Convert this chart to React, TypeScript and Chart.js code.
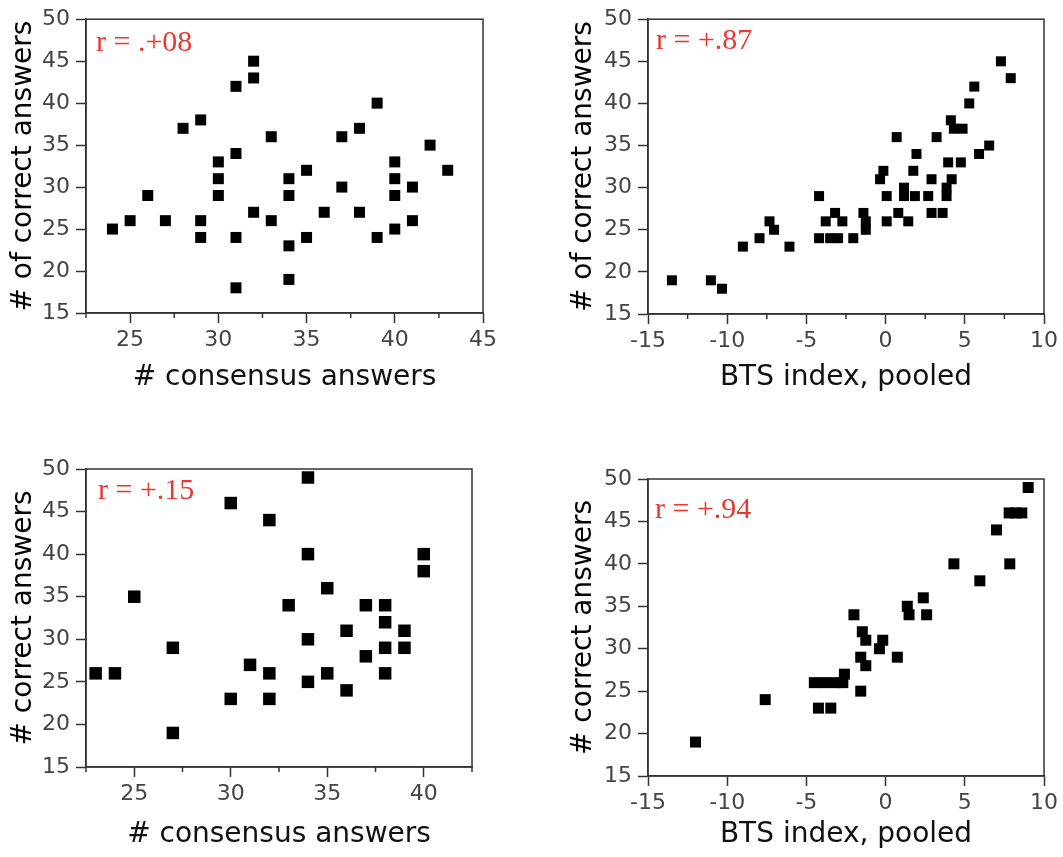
import React, { useEffect, useRef } from "react";
import { Chart, registerables } from "chart.js";
Chart.register(...registerables);

// ---- Data ----
// Panel A: # consensus answers vs # of correct answers
const consensusA = [24, 25, 26, 27, 28, 29, 29, 29, 30, 30, 30, 31, 31, 31, 31, 32, 32, 32, 33, 33, 34, 34, 34, 34, 35, 35, 36, 37, 37, 38, 38, 39, 39, 40, 40, 40, 40, 41, 41, 42, 43];
const correctA = [25, 26, 29, 26, 37, 38, 26, 24, 33, 31, 29, 42, 34, 24, 18, 45, 43, 27, 36, 26, 31, 29, 23, 19, 32, 24, 27, 36, 30, 37, 27, 40, 24, 33, 31, 29, 25, 30, 26, 35, 32];

// Panel B: BTS index, pooled vs # of correct answers
const btsB = [-13.49, -11.03, -10.33, -9.01, -7.96, -7.33, -7.04, -6.07, -4.2, -4.2, -3.78, -3.5, -3.0, -3.19, -2.73, -2.04, -1.4, -1.25, -1.25, -0.35, -0.14, 0.07, 0.07, 0.7, 0.8, 1.16, 1.16, 1.43, 1.75, 1.85, 1.95, 2.69, 2.9, 2.9, 3.22, 3.6, 3.85, 3.85, 3.95, 4.17, 4.12, 4.31, 4.86, 4.75, 5.28, 5.6, 5.9, 6.54, 7.28, 7.9];
const correctB = [19, 19, 18, 23, 24, 26, 25, 23, 29, 24, 26, 24, 24, 27, 26, 24, 27, 26, 25, 31, 32, 29, 26, 36, 27, 30, 29, 26, 32, 29, 34, 29, 31, 27, 36, 27, 30, 29, 33, 31, 38, 37, 37, 33, 40, 42, 34, 35, 45, 43];

// Panel C: # consensus answers vs # correct answers
const consensusC = [23, 24, 25, 27, 27, 30, 30, 31, 32, 32, 32, 33, 34, 34, 34, 34, 35, 35, 36, 36, 37, 37, 38, 38, 38, 38, 39, 39, 40, 40];
const correctC = [26, 26, 35, 29, 19, 46, 23, 27, 44, 26, 23, 34, 49, 40, 30, 25, 36, 26, 31, 24, 34, 28, 34, 32, 29, 26, 31, 29, 40, 38];

// Panel D: BTS index, pooled vs # correct answers
const btsD = [-12, -7.6, -4.24, -3.46, -4.5, -3.85, -3.2, -2.7, -2.6, -2.0, -1.47, -1.25, -1.57, -1.25, -1.57, -0.18, -0.39, 0.74, 1.37, 1.48, 2.38, 2.59, 4.31, 5.95, 7.0, 7.84, 7.8, 8.2, 8.6, 9.0];
const correctD = [19, 24, 23, 23, 26, 26, 26, 26, 27, 34, 32, 31, 29, 28, 25, 31, 30, 29, 35, 34, 36, 34, 40, 38, 44, 40, 46, 46, 46, 49];

// Tick values
const yTickValues = [15, 20, 25, 30, 35, 40, 45, 50];
const consensusMajorA = [25, 30, 35, 40, 45];
const consensusMajorC = [25, 30, 35, 40];
const consensusMinor = [22.5, 27.5, 32.5, 37.5, 42.5];
const btsMajor = [-15, -10, -5, 0, 5, 10];
const btsMinorB = [-12.5, -7.5, -2.5, 2.5, 7.5];
const noMinor: number[] = [];

// Labels
const xTitleConsensus = "# consensus answers";
const xTitleBts = "BTS index, pooled";
const yTitleOf = "# of correct answers";
const yTitlePlain = "# correct answers";
const rLabels = ["r = .+08", "r = +.87", "r = +.15", "r = +.94"];

// ---- Layout (positions / styles) ----
type Spec = {
  left: number; top: number; width: number; height: number;
  plotLeft: number; plotTop: number; plotRight: number; plotBottom: number;
  xs: number[]; ys: number[];
  xMin: number; xMax: number; xMajor: number[]; xMinor: number[];
  xTitle: string; yTitle: string; rLabel: string;
  rDx: number; rDy: number; side: number;
};

const specs: Spec[] = [
  { left: 0, top: 0, width: 530, height: 400, plotLeft: 86, plotTop: 15, plotRight: 483, plotBottom: 313,
    xs: consensusA, ys: correctA, xMin: 22.5, xMax: 45, xMajor: consensusMajorA, xMinor: consensusMinor,
    xTitle: xTitleConsensus, yTitle: yTitleOf, rLabel: rLabels[0], rDx: 10, rDy: 24, side: 11 },
  { left: 560, top: 0, width: 503, height: 400, plotLeft: 648, plotTop: 16, plotRight: 1044, plotBottom: 314,
    xs: btsB, ys: correctB, xMin: -15, xMax: 10, xMajor: btsMajor, xMinor: btsMinorB,
    xTitle: xTitleBts, yTitle: yTitleOf, rLabel: rLabels[1], rDx: 8, rDy: 22, side: 10 },
  { left: 0, top: 430, width: 530, height: 427, plotLeft: 86, plotTop: 469, plotRight: 472, plotBottom: 767,
    xs: consensusC, ys: correctC, xMin: 22.5, xMax: 42.5, xMajor: consensusMajorC, xMinor: consensusMinor,
    xTitle: xTitleConsensus, yTitle: yTitlePlain, rLabel: rLabels[2], rDx: 12, rDy: 22, side: 12.5 },
  { left: 560, top: 430, width: 503, height: 427, plotLeft: 648, plotTop: 479, plotRight: 1044, plotBottom: 776,
    xs: btsD, ys: correctD, xMin: -15, xMax: 10, xMajor: btsMajor, xMinor: noMinor,
    xTitle: xTitleBts, yTitle: yTitlePlain, rLabel: rLabels[3], rDx: 7, rDy: 31, side: 11 },
];

const AXIS = "#333";
const FONT = "'DejaVu Sans', sans-serif";

function Panel({ spec }: { spec: Spec }) {
  const ref = useRef<HTMLCanvasElement>(null);
  useEffect(() => {
    const s = spec;
    const framePlugin = {
      id: "frameAndExtras",
      afterDraw(chart: any) {
        const { ctx, chartArea } = chart;
        const xScale = chart.scales.x;
        ctx.save();
        ctx.strokeStyle = AXIS;
        ctx.lineWidth = 1.5;
        ctx.strokeRect(chartArea.left, chartArea.top, chartArea.right - chartArea.left, chartArea.bottom - chartArea.top);
        ctx.beginPath();
        for (const v of s.xMinor) {
          const px = xScale.getPixelForValue(v);
          ctx.moveTo(px, chartArea.bottom);
          ctx.lineTo(px, chartArea.bottom + 5);
        }
        ctx.stroke();
        ctx.fillStyle = "#e8382f";
        ctx.font = "30px 'Liberation Serif', serif";
        ctx.textBaseline = "middle";
        ctx.textAlign = "left";
        ctx.fillText(s.rLabel, chartArea.left + s.rDx, chartArea.top + s.rDy);
        ctx.restore();
      },
    };
    const chart = new Chart(ref.current!, {
      type: "scatter",
      data: {
        datasets: [
          {
            data: s.xs.map((x, i) => ({ x, y: s.ys[i] })),
            backgroundColor: "#000",
            borderWidth: 0,
            pointStyle: "rect",
            pointRadius: s.side / Math.SQRT2,
            pointHoverRadius: s.side / Math.SQRT2,
            clip: false,
          } as any,
        ],
      },
      options: {
        responsive: false,
        animation: false,
        events: [],
        layout: {
          padding: {
            left: 0,
            top: s.plotTop - s.top,
            right: s.left + s.width - s.plotRight,
            bottom: 0,
          },
        },
        plugins: { legend: { display: false }, tooltip: { enabled: false } },
        scales: {
          x: {
            type: "linear",
            min: s.xMin,
            max: s.xMax,
            afterBuildTicks: (sc: any) => { sc.ticks = s.xMajor.map((v) => ({ value: v })); },
            afterFit: (sc: any) => { sc.height = s.top + s.height - s.plotBottom; },
            ticks: {
              autoSkip: false,
              maxRotation: 0,
              padding: 4,
              color: "#444",
              font: { family: FONT, size: 22 },
              callback: (v: any) => String(v),
            },
            grid: { drawOnChartArea: false, drawTicks: true, tickLength: 10, tickColor: AXIS, tickWidth: 1.5 },
            border: { display: true, color: AXIS, width: 1.5 },
            title: {
              display: true,
              text: s.xTitle,
              color: "#111",
              font: { family: FONT, size: 28 },
              padding: { top: 0, bottom: 5 },
            },
          },
          y: {
            type: "linear",
            min: 15,
            max: 50,
            afterBuildTicks: (sc: any) => { sc.ticks = yTickValues.map((v) => ({ value: v })); },
            afterFit: (sc: any) => { sc.width = s.plotLeft - s.left; },
            ticks: {
              autoSkip: false,
              padding: 6,
              color: "#444",
              font: { family: FONT, size: 22 },
              callback: (v: any) => String(v),
            },
            grid: { drawOnChartArea: false, drawTicks: true, tickLength: 10, tickColor: AXIS, tickWidth: 1.5 },
            border: { display: true, color: AXIS, width: 1.5 },
            title: {
              display: true,
              text: s.yTitle,
              color: "#000",
              font: { family: FONT, size: 28 },
              padding: { top: 7, bottom: 0 },
            },
          },
        },
      } as any,
      plugins: [framePlugin],
    });
    return () => chart.destroy();
  }, [spec]);
  return (
    <canvas
      ref={ref}
      width={spec.width}
      height={spec.height}
      style={{ position: "absolute", left: spec.left, top: spec.top, width: spec.width, height: spec.height }}
    />
  );
}

export default function App() {
  return (
    <div style={{ position: "absolute", left: 0, top: 0, width: 1063, height: 857, background: "#fff", overflow: "hidden" }}>
      {specs.map((s, i) => (
        <Panel key={i} spec={s} />
      ))}
    </div>
  );
}
